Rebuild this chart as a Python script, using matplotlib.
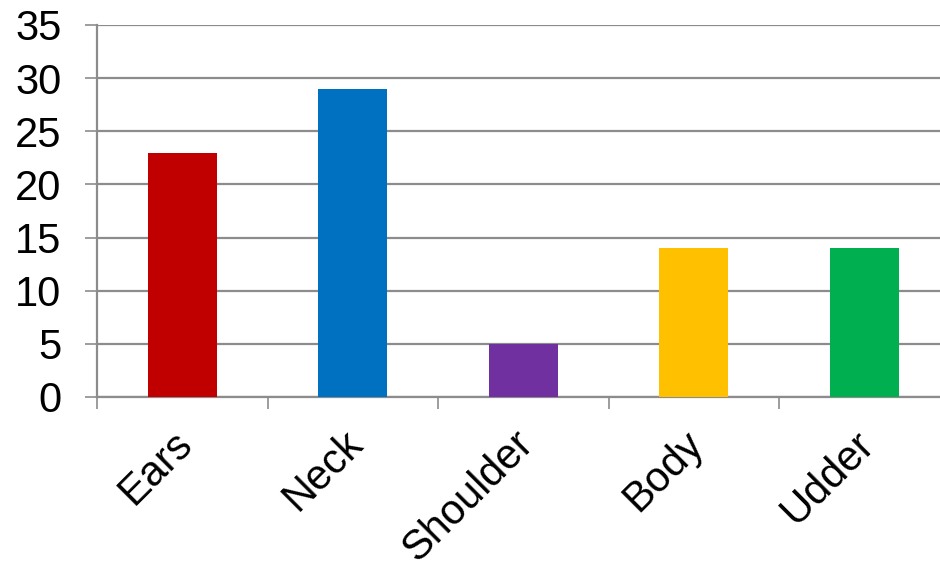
import numpy as np
import matplotlib.pyplot as plt
import matplotlib.transforms as mtransforms

plt.rcParams['font.family'] = ['Liberation Sans', 'DejaVu Sans']

# chart data
categories = ['Ears', 'Neck', 'Shoulder', 'Body', 'Udder']
counts = [23, 29, 5, 14, 14]
bar_colors = ['#C00000', '#0070C0', '#7030A0', '#FFC000', '#00B050']
y_ticks = [0, 5, 10, 15, 20, 25, 30, 35]

grid_color = '#8C8C8C'

fig = plt.figure(figsize=(9.4, 5.68), dpi=100)
ax = fig.add_axes([97 / 940, 171 / 568, 852.5 / 940, 372 / 568])

x = np.arange(len(categories))
ax.bar(x, counts, width=0.405, color=bar_colors, zorder=3)

ax.set_xlim(-0.5, len(categories) - 0.5)
ax.set_ylim(0, 35)

# horizontal gridlines, with the y ticks sticking out to the left
ax.set_yticks(y_ticks)
ax.yaxis.grid(True, color=grid_color, linewidth=1.6, zorder=0)
ax.tick_params(axis='y', length=8.6, width=1.2, color=grid_color,
               labelsize=30, pad=17)

# category labels on centres, tick marks on the boundaries
ax.set_xticks(x)
ax.set_xticklabels(categories, rotation=45, ha='right',
                   rotation_mode='anchor', fontsize=30)
ax.set_xticks(np.arange(len(categories) + 1) - 0.5, minor=True)
ax.tick_params(axis='x', which='major', length=0, pad=19)
ax.tick_params(axis='x', which='minor', length=8.6, width=1.2,
               color=grid_color)

# nudge the slanted labels a little left
shift = mtransforms.ScaledTranslation(-0.1, 0.0, fig.dpi_scale_trans)
for lbl in ax.get_xticklabels():
    lbl.set_transform(lbl.get_transform() + shift)

for side in ('top', 'right'):
    ax.spines[side].set_visible(False)
for side in ('left', 'bottom'):
    ax.spines[side].set_color(grid_color)
    ax.spines[side].set_linewidth(1.6)

fig.savefig('out.png', dpi=100)
